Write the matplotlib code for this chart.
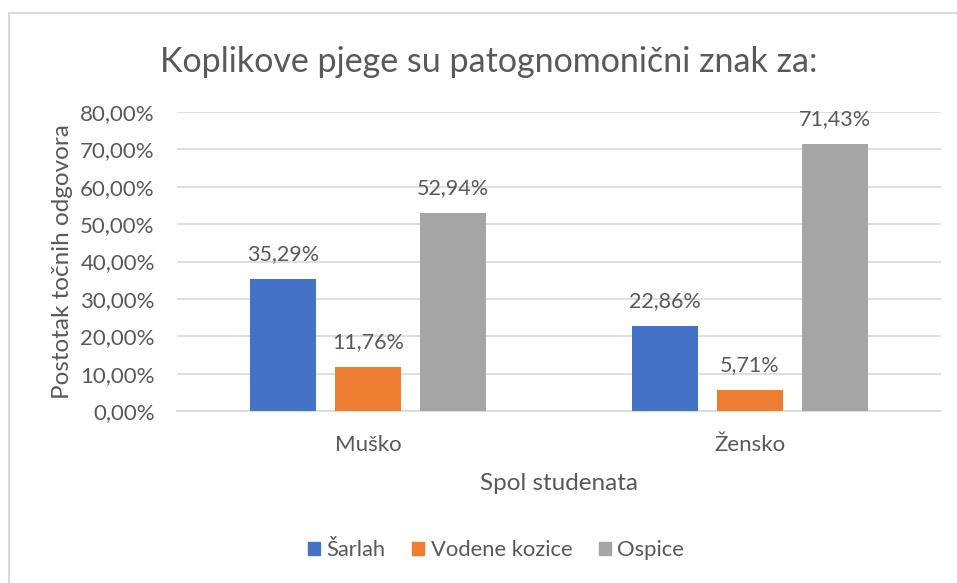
import numpy as np
import matplotlib.pyplot as plt
from matplotlib.lines import Line2D

categories = ["Muško", "Žensko"]
series_names = ["Šarlah", "Vodene kozice", "Ospice"]
sarlah = [35.29, 22.86]
vodene_kozice = [11.76, 5.71]
ospice = [52.94, 71.43]
y_ticks = [0, 10, 20, 30, 40, 50, 60, 70, 80]

colors = ["#4472C4", "#ED7D31", "#A5A5A5"]
text_color = "#595959"

plt.rcParams["font.family"] = ["Lato", "DejaVu Sans"]

fig = plt.figure(figsize=(9.57, 5.83), dpi=100)
W, H = 957, 583
ax = fig.add_axes([177 / W, 1 - 411 / H, (941 - 177) / W, (411 - 112) / H])

x = np.arange(len(categories))
bar_w = 0.173
offsets = [-0.222, 0.0, 0.222]
for vals, name, col, off in zip([sarlah, vodene_kozice, ospice], series_names, colors, offsets):
    bars = ax.bar(x + off, vals, width=bar_w, color=col, label=name, zorder=3)
    for b, v in zip(bars, vals):
        ax.text(b.get_x() + b.get_width() / 2, v + 4.0, f"{v:.2f}%".replace(".", ","),
                ha="center", va="bottom", fontsize=15.5, color=text_color)

ax.set_xlim(-0.5, 1.5)
ax.set_ylim(0, 80)
ax.set_yticks(y_ticks)
ax.set_yticklabels([f"{t:.2f}%".replace(".", ",") for t in y_ticks])
ax.set_xticks(x)
ax.set_xticklabels(categories)
ax.yaxis.grid(True, color="#D9D9D9", linewidth=1.2, zorder=0)
ax.set_axisbelow(True)
for s in ["top", "right", "left"]:
    ax.spines[s].set_visible(False)
ax.spines["bottom"].set_color("#D9D9D9")
ax.spines["bottom"].set_linewidth(1.2)
ax.tick_params(axis="both", length=0, labelsize=16, colors=text_color)
ax.tick_params(axis="y", pad=16)
ax.tick_params(axis="x", pad=17)

ax.set_xlabel("Spol studenata", fontsize=17.5, color=text_color)
ax.set_ylabel("Postotak točnih odgovora", fontsize=17.5, color=text_color)
ax.xaxis.set_label_coords(0.5, (411 - 483) / 299, transform=ax.transAxes)
ax.yaxis.set_label_coords((63 - 177) / 764, 0.5, transform=ax.transAxes)
ax.xaxis.label.set_va("center")
ax.yaxis.label.set_va("center")

fig.text(489 / W, 1 - 62 / H, "Koplikove pjege su patognomonični znak za:",
         ha="center", va="center", fontsize=24.5, color=text_color)

handles = [plt.Rectangle((0, 0), 1, 1, color=c) for c in colors]
fig.legend(handles, series_names, loc="center", bbox_to_anchor=(496 / W, 1 - 550 / H),
           ncol=3, frameon=False, fontsize=15.8, labelcolor=text_color,
           handlelength=0.55, handleheight=0.55, handletextpad=0.3, columnspacing=1.2)

# outer chart border (top and left visible)
fig.add_artist(Line2D([9 / W, 1], [1 - 13 / H, 1 - 13 / H], color="#D9D9D9", linewidth=1.5))
fig.add_artist(Line2D([9 / W, 9 / W], [0, 1 - 13 / H], color="#D9D9D9", linewidth=1.5))

fig.savefig("out.png", dpi=100)
